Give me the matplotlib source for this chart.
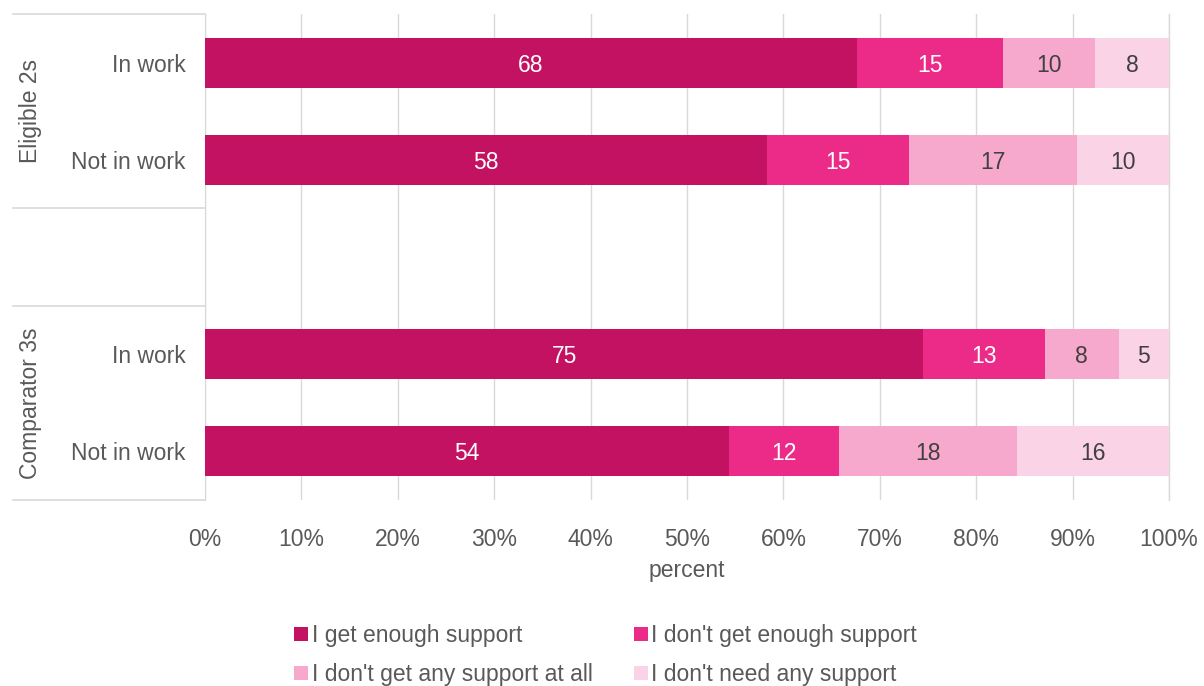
import matplotlib
matplotlib.use("Agg")
import matplotlib.pyplot as plt
from matplotlib.lines import Line2D
from matplotlib.patches import Patch

plt.rcParams['font.family'] = ['Liberation Sans', 'DejaVu Sans']

rows = ["In work", "Not in work", "", "In work", "Not in work"]
groups = ["Eligible 2s", "Comparator 3s"]
series = ["I get enough support", "I don't get enough support",
          "I don't get any support at all", "I don't need any support"]
get_enough = [67.6, 58.3, None, 74.5, 54.4]
not_enough = [15.2, 14.7, None, 12.6, 11.4]
none_at_all = [9.5, 17.5, None, 7.7, 18.4]
no_need = [7.7, 9.5, None, 5.2, 15.8]
labels = [[68, 15, 10, 8], [58, 15, 17, 10], None, [75, 13, 8, 5], [54, 12, 18, 16]]

colors = ["#C21261", "#EC2B89", "#F7A9CD", "#FAD3E6"]
text_colors = ["white", "white", "#404040", "#404040"]
grey = "#595959"
FS = 16.5

fig = plt.figure(figsize=(12.04, 6.86), dpi=100)
W, H = 1204, 686
ax = fig.add_axes([205 / W, 1 - 500 / H, (1169 - 205) / W, (500 - 14) / H])

data = [get_enough, not_enough, none_at_all, no_need]
n = len(rows)
ys = list(range(n))
for i in range(n):
    if get_enough[i] is None:
        continue
    left = 0
    for s in range(4):
        v = data[s][i]
        ax.barh(i, v, left=left, height=0.515, color=colors[s], zorder=3)
        ax.text(left + v / 2, i, str(labels[i][s]), ha='center',
                va='center_baseline', color=text_colors[s], fontsize=FS,
                zorder=4)
        left += v

ax.set_ylim(n - 0.5, -0.5)
ax.set_xlim(0, 100)
ax.set_xticks(range(0, 101, 10))
ax.set_xticklabels([f"{t}%" for t in range(0, 101, 10)])
ax.tick_params(axis='x', length=0, pad=20, labelsize=FS, labelcolor=grey)
ax.set_yticks(ys)
ax.set_yticklabels(rows)
ax.tick_params(axis='y', length=0, pad=14, labelsize=FS, labelcolor=grey)
ax.grid(axis='x', color="#D9D9D9", linewidth=1, zorder=0)
ax.axvline(100, color="#D9D9D9", linewidth=1, zorder=0, clip_on=False)
for sp in ['top', 'right', 'bottom']:
    ax.spines[sp].set_visible(False)
ax.spines['left'].set_color("#D9D9D9")
ax.set_xlabel("percent", fontsize=FS, color=grey, labelpad=6)

# group separators and labels
x0 = -(205 - 13) / (1169 - 205) * 100
for yb in [-0.5, 1.5, 2.5, 4.5]:
    ax.add_line(Line2D([x0, 0], [yb, yb], color="#D9D9D9", linewidth=1.2,
                       clip_on=False))
gx = -(205 - 31) / (1169 - 205) * 100
ax.text(gx, 0.5, groups[0], rotation=90, ha='center', va='center',
        fontsize=FS, color=grey, clip_on=False)
ax.text(gx, 3.5, groups[1], rotation=90, ha='center', va='center',
        fontsize=FS, color=grey, clip_on=False)

handles = [Patch(facecolor=c, edgecolor='none') for c in colors]
order = [0, 2, 1, 3]
fig.legend([handles[k] for k in order], [series[k] for k in order],
           loc='center', bbox_to_anchor=(0.503, 1 - 655 / H),
           ncol=2, frameon=False, fontsize=FS, handlelength=0.6,
           handleheight=0.6, handletextpad=0.15, columnspacing=1.8,
           labelcolor=grey, labelspacing=0.7, borderpad=0)

fig.savefig("out.png", dpi=100)
